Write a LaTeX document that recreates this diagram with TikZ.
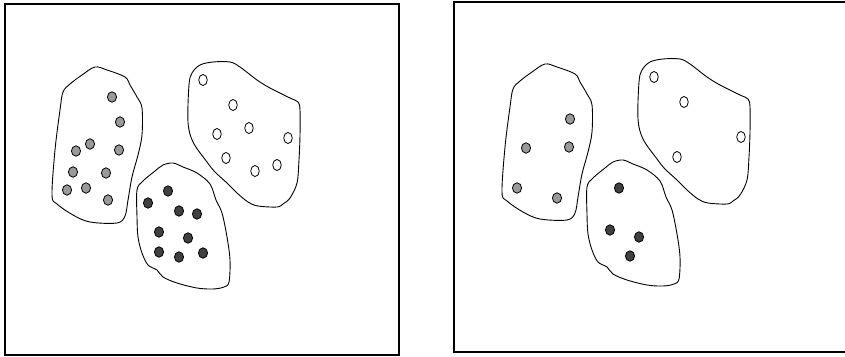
\documentclass[tikz,border=0pt]{standalone}
\begin{document}
\begin{tikzpicture}[x=1pt,y=-1pt,
  frame/.style={line width=1.4pt},
  blob/.style={line width=0.9pt, line join=round},
  gdot/.style={draw=black, line width=0.8pt, fill=black!40},
  ddot/.style={draw=black, line width=0.8pt, fill=black!75},
  wdot/.style={draw=black, line width=0.8pt, fill=white}]
\useasboundingbox (0,0) rectangle (845,356);
\newcommand\grayblob{\draw[blob] plot[smooth cycle, tension=0.55] coordinates {
 (95,67) (107,70) (125,77) (130,85) (137,97) (142,108) (142,135) (138,155)
 (132,177) (128,200) (125,216) (117,223) (90,222) (73,215) (57,204) (52,195)
 (55,150) (60,110) (63,92) (70,84) (82,75)};}
\newcommand\darkblob{\draw[blob] plot[smooth cycle, tension=0.55] coordinates {
 (163,165) (173,163) (183,167) (197,173) (210,184) (216,200) (222,213) (227,237)
 (230,260) (229,282) (224,287) (213,289) (197,288) (177,283) (163,277) (157,270)
 (148,265) (142,253) (138,237) (137,217) (137,190) (143,181) (155,171)};}
\newcommand\whiteblob{\draw[blob] plot[smooth cycle, tension=0.55] coordinates {
 (192,73) (200,65) (213,62) (230,62) (240,67) (257,80) (270,88) (290,98)
 (298,102) (300,110) (300,135) (299,160) (297,183) (290,198) (283,204) (277,207)
 (258,206) (248,202) (237,193) (227,183) (215,172) (207,162) (193,142) (188,122)
 (189,85)};}
% left panel
\draw[frame] (5,4) rectangle (399,355);
\grayblob \darkblob \whiteblob
\foreach \x/\y in {112/97,120/122,90/144,76/151,119/150,73/172,106/173,67/190,86/188,108/200}
  \draw[gdot] (\x,\y) ellipse [x radius=4.6, y radius=5.2];
\foreach \x/\y in {168/191,148/203,179/211,197/214,159/232,188/238,159/252,179/257,203/253}
  \draw[ddot] (\x,\y) ellipse [x radius=4.6, y radius=5.2];
\foreach \x/\y in {203/80,233/105,249/128,217/134,288/138,226/158,255/171,277/165}
  \draw[wdot] (\x,\y) ellipse [x radius=4.3, y radius=5.5];
% right panel
\draw[frame] (846,2) -- (454,2) -- (454,352) -- (846,352);
\begin{scope}[shift={(450,-3)}]
\grayblob \darkblob \whiteblob
\foreach \x/\y in {120/122,76/151,119/150,67/191,107/201}
  \draw[gdot] (\x,\y) ellipse [x radius=4.6, y radius=5.2];
\foreach \x/\y in {169/191,160/233,189/240,180/259}
  \draw[ddot] (\x,\y) ellipse [x radius=4.6, y radius=5.2];
\foreach \x/\y in {204/80,234/105,291/140,227/160}
  \draw[wdot] (\x,\y) ellipse [x radius=4.3, y radius=5.5];
\end{scope}
\end{tikzpicture}
\end{document}
